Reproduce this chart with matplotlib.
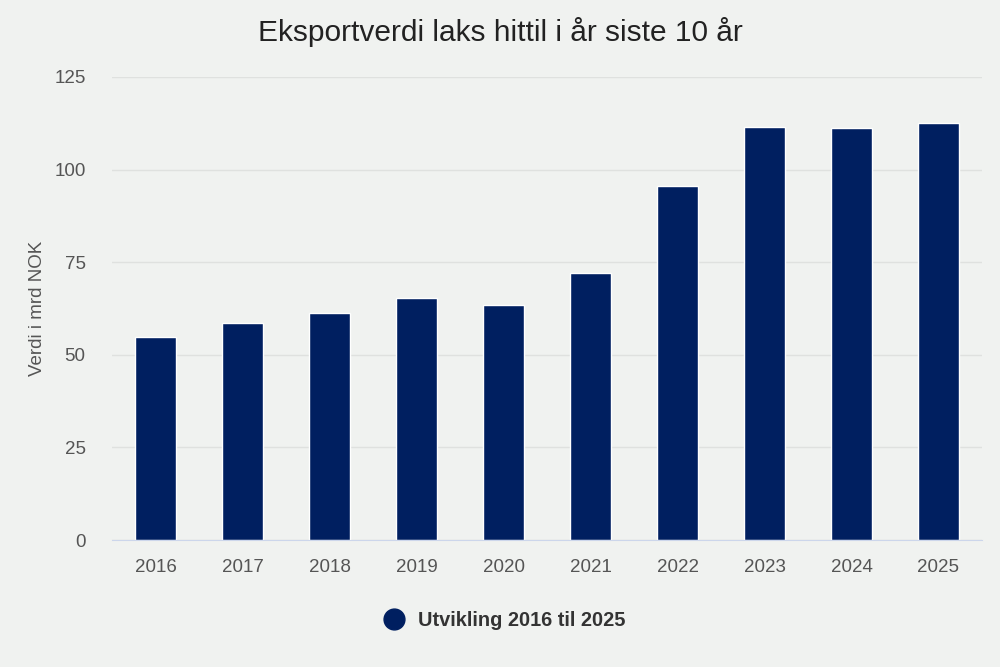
import matplotlib.pyplot as plt
from matplotlib.lines import Line2D

# data
years = ['2016', '2017', '2018', '2019', '2020', '2021', '2022', '2023', '2024', '2025']
values = [54.8, 58.6, 61.3, 65.3, 63.4, 72.1, 95.6, 111.5, 111.2, 112.6]
series_name = 'Utvikling 2016 til 2025'
y_ticks = [0, 25, 50, 75, 100, 125]

bg = '#f0f2f0'
bar_color = '#001f60'

plt.rcParams['font.family'] = ['Liberation Sans', 'DejaVu Sans']

fig = plt.figure(figsize=(10, 6.67), dpi=100, facecolor=bg)
ax = fig.add_axes([0.112, 0.1904, 0.870, 0.6942], facecolor=bg)

x = list(range(len(years)))
ax.bar(x, values, width=0.48, color=bar_color, edgecolor='white', linewidth=1, zorder=3)

ax.set_xlim(-0.5, len(years) - 0.5)
ax.set_ylim(0, 125)
ax.set_yticks(y_ticks)
ax.set_xticks(x)
ax.set_xticklabels(years)
ax.grid(axis='y', color='#dfe1df', linewidth=1, zorder=0)
ax.tick_params(axis='both', length=0, labelsize=13.5, colors='#555555')
ax.tick_params(axis='x', pad=14)
ax.tick_params(axis='y', pad=19)

for s in ['top', 'right', 'left']:
    ax.spines[s].set_visible(False)
ax.spines['bottom'].set_color('#ccd6eb')
ax.spines['bottom'].set_zorder(4)

ax.set_ylabel('Verdi i mrd NOK', fontsize=13.5, color='#555555', labelpad=6)

fig.suptitle('Eksportverdi laks hittil i år siste 10 år', fontsize=21.5, color='#222222', y=0.975)

handle = Line2D([], [], marker='o', linestyle='none', markersize=15, color=bar_color)
leg = fig.legend([handle], [series_name], loc='center', bbox_to_anchor=(0.5, 0.07),
                 frameon=False, prop={'weight': 'bold', 'size': 14.4}, handletextpad=0.2)
for t in leg.get_texts():
    t.set_color('#333333')

plt.savefig('out.png', dpi=100, facecolor=bg)
